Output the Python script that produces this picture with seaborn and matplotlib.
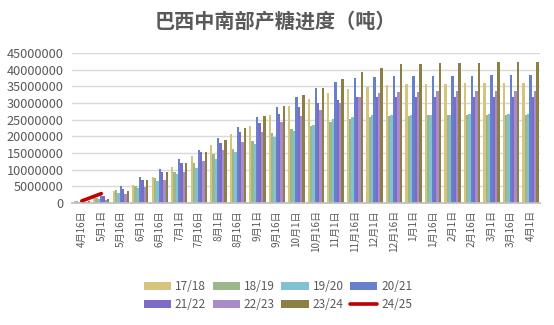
import matplotlib
matplotlib.use("Agg")
import matplotlib.pyplot as plt
import seaborn as sns
import pandas as pd
import numpy as np
from matplotlib.patches import Patch
from matplotlib.lines import Line2D

dates = ["4月16日", "5月1日", "5月16日", "6月1日", "6月16日", "7月1日", "7月16日", "8月1日",
         "8月16日", "9月1日", "9月16日", "10月1日", "10月16日", "11月1日", "11月16日", "12月1日",
         "12月16日", "1月1日", "1月16日", "2月1日", "2月16日", "3月1日", "3月16日", "4月1日"]

seasons = ["17/18", "18/19", "19/20", "20/21", "21/22", "22/23", "23/24"]

s1718 = [0.6, 1.4, 3.7, 5.4, 7.7, 10.7, 14.1, 17.4, 20.7, 23.1, 26.4, 29.1, 31.1, 32.9, 34.2, 34.8,
         35.4, 35.7, 35.8, 35.8, 35.9, 35.9, 35.9, 36.0]
s1819 = [0.6, 1.4, 3.9, 5.1, 7.4, 9.4, 12.1, 14.7, 16.3, 18.6, 20.9, 22.1, 23.1, 24.4, 25.2, 25.7,
         26.1, 26.2, 26.3, 26.3, 26.4, 26.4, 26.4, 26.5]
s1920 = [0.3, 1.2, 3.1, 4.6, 6.7, 8.7, 10.5, 13.2, 15.3, 17.7, 19.9, 21.7, 23.4, 25.1, 25.8, 26.3,
         26.4, 26.4, 26.5, 26.5, 26.6, 26.6, 26.6, 26.7]
s2021 = [0.4, 2.1, 5.1, 7.7, 10.2, 13.1, 15.9, 19.5, 22.9, 25.7, 28.9, 31.7, 34.5, 36.2, 37.5, 37.7,
         38.1, 38.1, 38.2, 38.2, 38.2, 38.3, 38.3, 38.4]
s2122 = [0.3, 2.1, 4.2, 6.9, 9.4, 12.1, 15.4, 18.1, 21.3, 24.1, 26.7, 28.9, 30.1, 30.9, 31.7, 31.8,
         31.9, 31.8, 31.8, 31.8, 31.8, 31.8, 31.8, 31.9]
s2223 = [0.3, 0.9, 2.7, 4.7, 6.9, 9.4, 12.7, 15.9, 18.4, 21.4, 24.4, 26.1, 27.9, 30.1, 31.7, 32.9,
         33.3, 33.4, 33.5, 33.5, 33.5, 33.5, 33.5, 33.6]
s2324 = [0.5, 1.2, 3.7, 6.9, 9.4, 11.9, 15.3, 18.9, 22.6, 26.1, 29.1, 32.4, 34.6, 37.1, 39.3, 40.6,
         41.7, 41.7, 41.9, 42.0, 42.1, 42.2, 42.2, 42.4]

line_label = "24/25"
line_dates = ["4月16日", "5月1日"]
s2425 = [0.65, 2.85]

yticks = [0, 5000000, 10000000, 15000000, 20000000, 25000000, 30000000, 35000000, 40000000, 45000000]

colors = ["#D5C47E", "#9DB78C", "#82C2D0", "#6680CC", "#7B6CC8", "#A98BC9", "#8B7F45"]
line_color = "#C00000"

series = [s1718, s1819, s1920, s2021, s2122, s2223, s2324]
rows = []
for season, vals in zip(seasons, series):
    for d, v in zip(dates, vals):
        rows.append({"date": d, "season": season, "value": v * 1e6})
df = pd.DataFrame(rows)

sns.set_theme(style="white")
plt.rcParams["font.family"] = ["Noto Sans CJK SC", "DejaVu Sans"]

fig = plt.figure(figsize=(5.54, 3.25), dpi=100)
ax = fig.add_axes([0.13, 0.375, 0.845, 0.462])

sns.barplot(data=df, x="date", y="value", hue="season", order=dates, hue_order=seasons,
            palette=colors, width=0.84, ax=ax, legend=False, saturation=1,
            linewidth=0)

line_df = pd.DataFrame({"x": [dates.index(d) for d in line_dates],
                        "value": [v * 1e6 for v in s2425]})
sns.lineplot(data=line_df, x="x", y="value", color=line_color, linewidth=2.6, ax=ax, legend=False)

ax.set_xlim(-0.5, len(dates) - 0.5)
ax.set_ylim(0, 45000000)
ax.set_yticks(yticks)
ax.set_yticklabels([str(t) for t in yticks])
ax.set_xticks(range(len(dates)))
ax.set_xticklabels(dates, rotation=90)
ax.set_xlabel("")
ax.set_ylabel("")
ax.yaxis.grid(True, color="#D9D9D9", linewidth=1)
ax.set_axisbelow(True)
for s in ["top", "right", "left"]:
    ax.spines[s].set_visible(False)
ax.spines["bottom"].set_color("#BFBFBF")
ax.tick_params(axis="y", labelsize=9.2, colors="#595959", length=0, pad=6)
ax.tick_params(axis="x", labelsize=7.2, colors="#595959", length=0, pad=5)

fig.text(0.497, 0.935, "巴西中南部产糖进度（吨）", ha="center", va="center",
         fontsize=14.5, fontweight="bold", color="#595959")

handles = [Patch(facecolor=c, edgecolor="none") for c in colors]
labels = list(seasons)
handles.append(Line2D([0], [0], color=line_color, linewidth=2.6))
labels.append(line_label)
order = [0, 4, 1, 5, 2, 6, 3, 7]
fig.legend([handles[i] for i in order], [labels[i] for i in order], ncol=4,
           loc="center", bbox_to_anchor=(0.502, 0.09), frameon=False,
           fontsize=8.5, handlelength=2.3, handleheight=0.6, columnspacing=0.55,
           handletextpad=0.35, labelspacing=0.45, labelcolor="#595959")

fig.savefig("out.png", dpi=100, facecolor="white")
